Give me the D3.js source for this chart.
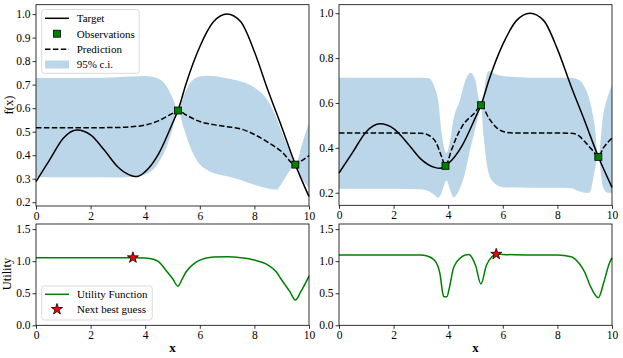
<!DOCTYPE html>
<html>
<head>
<meta charset="utf-8">
<script src="https://cdn.jsdelivr.net/npm/d3@7"></script>
<style>
  body { margin: 0; background: #fff; }
  svg { display: block; font-family: "Liberation Serif", "Times New Roman", serif; }
</style>
</head>
<body>
<div class="chart"></div>
<script>
// Target function (same in both columns)
var targetX = [0, 0.5, 1, 1.5, 2, 2.5, 3, 3.5, 3.7, 4, 4.5, 5, 5.2, 5.5, 6, 6.5, 7, 7.5, 8, 8.5, 9, 9.5, 10];
var targetY = [0.288, 0.38, 0.472, 0.507, 0.486, 0.422, 0.35, 0.313, 0.309, 0.33, 0.408, 0.536, 0.59, 0.705, 0.861, 0.967, 1.0, 0.967, 0.84, 0.675, 0.52, 0.36, 0.224];

// Left column: two observations
var obs1X = [5.2, 9.5];
var obs1Y = [0.59, 0.36];
var mean1X = [0, 1, 2, 3, 3.5, 4, 4.5, 5, 5.2, 5.5, 6, 6.5, 7, 7.5, 8, 8.5, 9, 9.5, 9.75, 10];
var mean1Y = [0.517, 0.517, 0.517, 0.518, 0.521, 0.528, 0.547, 0.578, 0.59, 0.571, 0.543, 0.53, 0.521, 0.512, 0.488, 0.455, 0.415, 0.36, 0.378, 0.398];
var ci1X = [0, 1, 2, 3, 3.5, 4, 4.5, 4.8, 5, 5.2, 5.4, 5.6, 6, 6.3, 7, 7.5, 8, 8.5, 8.8, 9, 9.3, 9.5, 9.75, 10];
var ci1Upper = [0.728, 0.728, 0.729, 0.732, 0.735, 0.737, 0.725, 0.69, 0.645, 0.59, 0.65, 0.70, 0.735, 0.738, 0.727, 0.713, 0.688, 0.63, 0.56, 0.5, 0.415, 0.36, 0.45, 0.54];
var ci1Lower = [0.306, 0.306, 0.306, 0.305, 0.308, 0.318, 0.37, 0.44, 0.51, 0.59, 0.52, 0.45, 0.36, 0.335, 0.31, 0.295, 0.274, 0.258, 0.253, 0.28, 0.335, 0.36, 0.3, 0.26];

// Right column: three observations
var obs2X = [3.9, 5.2, 9.5];
var obs2Y = [0.32, 0.59, 0.36];
var mean2X = [0, 1, 2, 3, 3.3, 3.57, 3.76, 3.9, 4.12, 4.3, 4.5, 5, 5.2, 5.5, 5.8, 6.1, 6.5, 7, 8, 8.5, 8.7, 9.06, 9.3, 9.5, 9.67, 10];
var mean2Y = [0.466, 0.466, 0.466, 0.465, 0.455, 0.42, 0.36, 0.32, 0.39, 0.446, 0.494, 0.56, 0.59, 0.53, 0.487, 0.47, 0.466, 0.466, 0.466, 0.465, 0.46, 0.42, 0.387, 0.36, 0.397, 0.443];
var ci2X = [0, 1, 2, 3, 3.3, 3.5, 3.63, 3.76, 3.85, 3.94, 4.05, 4.2, 4.43, 4.6, 4.82, 5, 5.1, 5.2, 5.3, 5.4, 5.5, 5.7, 6, 7, 8, 8.5, 8.82, 9, 9.18, 9.37, 9.5, 9.67, 9.85, 10];
var ci2Upper = [0.713, 0.713, 0.713, 0.713, 0.71, 0.67, 0.613, 0.465, 0.40, 0.375, 0.42, 0.53, 0.613, 0.69, 0.735, 0.70, 0.63, 0.59, 0.64, 0.72, 0.742, 0.73, 0.72, 0.713, 0.713, 0.712, 0.70, 0.67, 0.613, 0.494, 0.36, 0.54, 0.63, 0.68];
var ci2Lower = [0.218, 0.218, 0.218, 0.215, 0.205, 0.19, 0.178, 0.2, 0.235, 0.256, 0.22, 0.18, 0.22, 0.28, 0.4, 0.49, 0.54, 0.59, 0.45, 0.34, 0.28, 0.242, 0.225, 0.222, 0.222, 0.22, 0.205, 0.2, 0.2, 0.3, 0.36, 0.226, 0.2, 0.2];

// Utility functions and the next best guess
var util1X = [0, 1, 2, 3, 3.55, 4, 4.3, 4.5, 4.8, 5, 5.2, 5.35, 5.5, 5.8, 6, 6.5, 7, 7.5, 8, 8.5, 8.8, 9, 9.3, 9.5, 9.7, 10];
var util1Y = [1.053, 1.053, 1.053, 1.054, 1.055, 1.05, 1.03, 0.99, 0.835, 0.73, 0.61, 0.72, 0.835, 0.965, 1.017, 1.064, 1.07, 1.053, 1.017, 0.94, 0.835, 0.706, 0.524, 0.394, 0.524, 0.768];
var util2X = [0, 1, 2, 3, 3.2, 3.5, 3.7, 3.8, 3.85, 3.95, 4.05, 4.2, 4.5, 4.75, 5, 5.2, 5.4, 5.6, 5.76, 6, 7, 8, 8.5, 8.8, 9, 9.2, 9.5, 9.7, 9.9, 10];
var util2Y = [1.096, 1.096, 1.096, 1.095, 1.085, 1.016, 0.8, 0.5, 0.447, 0.445, 0.6, 0.9, 1.07, 1.106, 0.936, 0.644, 0.936, 1.07, 1.11, 1.106, 1.096, 1.096, 1.07, 0.963, 0.83, 0.617, 0.431, 0.67, 0.963, 1.053];
var best1 = [3.55, 1.055];
var best2 = [5.76, 1.11];

var yTicksLeft = [0.2, 0.3, 0.4, 0.5, 0.6, 0.7, 0.8, 0.9, 1.0];
var yTicksRight = [0.2, 0.4, 0.6, 0.8, 1.0];
var xTicks = [0, 2, 4, 6, 8, 10];
var utilTicks = [0.0, 0.5, 1.0, 1.5];

var width = 623, height = 358;
var serif = '"Liberation Serif", "Times New Roman", serif';
var svg = d3.select(".chart").append("svg")
    .attr("width", width)
    .attr("height", height);

var fmt = d3.format(".1f");
var zip = (xs, ys) => xs.map((d, i) => [d, ys[i]]);
var starSize = 38;

// Draw one GP panel
function gpPanel(x0, x1, y0, y1, yDomain, yTicks, mX, mY, cX, cU, cL, oX, oY) {
    var x = d3.scaleLinear().domain([0, 10]).range([x0, x1]);
    var y = d3.scaleLinear().domain(yDomain).range([y1, y0]);
    var g = svg.append("g");

    g.append("path")
        .datum(cX.map((d, i) => [d, cU[i], cL[i]]))
        .attr("fill", "#1f77b4").attr("fill-opacity", 0.3)
        .attr("d", d3.area().curve(d3.curveMonotoneX)
            .x(d => x(d[0])).y0(d => y(d[2])).y1(d => y(d[1])));

    var line = d3.line().curve(d3.curveMonotoneX).x(d => x(d[0])).y(d => y(d[1]));
    g.append("path").datum(zip(targetX, targetY))
        .attr("fill", "none").attr("stroke", "#000").attr("stroke-width", 1.5)
        .attr("d", line);
    g.append("path").datum(zip(mX, mY))
        .attr("fill", "none").attr("stroke", "#000").attr("stroke-width", 1.5)
        .attr("stroke-dasharray", "5.5,2.4")
        .attr("d", line);

    g.selectAll("rect.obs").data(zip(oX, oY)).enter().append("rect")
        .attr("class", "obs")
        .attr("x", d => x(d[0]) - 3.5).attr("y", d => y(d[1]) - 3.5)
        .attr("width", 7).attr("height", 7)
        .attr("fill", "#008000").attr("stroke", "#000").attr("stroke-width", 0.8);

    frame(g, x, y, x0, x1, y0, y1, yTicks);
    return g;
}

// Draw one utility panel
function utilPanel(x0, x1, y0, y1, uX, uY, best) {
    var x = d3.scaleLinear().domain([0, 10]).range([x0, x1]);
    var y = d3.scaleLinear().domain([0, 1.58]).range([y1, y0]);
    var g = svg.append("g");
    g.append("path").datum(zip(uX, uY))
        .attr("fill", "none").attr("stroke", "#008000").attr("stroke-width", 1.5)
        .attr("d", d3.line().curve(d3.curveMonotoneX).x(d => x(d[0])).y(d => y(d[1])));
    g.append("path")
        .attr("d", d3.symbol(d3.symbolStar, starSize)())
        .attr("transform", "translate(" + x(best[0]) + "," + y(best[1]) + ")")
        .attr("fill", "red").attr("stroke", "#000").attr("stroke-width", 0.8);
    frame(g, x, y, x0, x1, y0, y1, utilTicks);
    g.append("text")
        .attr("x", (x0 + x1) / 2).attr("y", 352)
        .attr("text-anchor", "middle")
        .style("font-size", "13px").style("font-weight", "bold")
        .text("x");
    return g;
}

// Styles the axis group like matplotlib: serif labels, thin ticks
function styleAxis(a) {
    a.select(".domain").remove();
    a.attr("font-family", serif).attr("font-size", 11.5);
    a.selectAll(".tick line").attr("stroke", "#000").attr("stroke-width", 0.8);
    a.selectAll(".tick text").attr("fill", "#000")
        .style("font-family", serif).style("font-size", "11.5px");
}

function frame(g, x, y, x0, x1, y0, y1, yTicks) {
    g.append("rect")
        .attr("x", x0).attr("y", y0).attr("width", x1 - x0).attr("height", y1 - y0)
        .attr("fill", "none").attr("stroke", "#000").attr("stroke-width", 0.8);
    g.append("g").attr("transform", "translate(0," + y1 + ")")
        .call(d3.axisBottom(x).tickValues(xTicks).tickSize(3.5).tickPadding(2).tickFormat(d3.format("d")))
        .call(styleAxis);
    g.append("g").attr("transform", "translate(" + x0 + ",0)")
        .call(d3.axisLeft(y).tickValues(yTicks).tickSize(3.5).tickPadding(2).tickFormat(fmt))
        .call(styleAxis);
}

function legendBox(g, bx, by, bw, bh) {
    g.append("rect")
        .attr("x", bx).attr("y", by).attr("width", bw).attr("height", bh)
        .attr("rx", 2.5)
        .attr("fill", "#fff").attr("fill-opacity", 0.8)
        .attr("stroke", "#d0d0d0").attr("stroke-width", 0.8);
}

function legendText(g, tx, ty, label) {
    g.append("text").attr("x", tx).attr("y", ty).attr("dy", "0.35em")
        .style("font-size", "11px").text(label);
}

gpPanel(36, 309, 4.7, 206, [0.184, 1.04], yTicksLeft, mean1X, mean1Y, ci1X, ci1Upper, ci1Lower, obs1X, obs1Y);
gpPanel(339, 612, 4.7, 205.3, [0.144, 1.038], yTicksRight, mean2X, mean2Y, ci2X, ci2Upper, ci2Lower, obs2X, obs2Y);
utilPanel(36, 309, 224, 325.3, util1X, util1Y, best1);
utilPanel(339, 612, 224, 325.3, util2X, util2Y, best2);

// y labels
svg.append("text").attr("transform", "translate(13,105) rotate(-90)")
    .attr("text-anchor", "middle").style("font-size", "12.5px").text("f(x)");
svg.append("text").attr("transform", "translate(11,274) rotate(-90)")
    .attr("text-anchor", "middle").style("font-size", "12.5px").text("Utility");

// Legend, top-left panel
var lg = svg.append("g");
legendBox(lg, 41.7, 9.5, 97.5, 63.8);
lg.append("line").attr("x1", 45).attr("x2", 69).attr("y1", 18.3).attr("y2", 18.3)
    .attr("stroke", "#000").attr("stroke-width", 1.5);
legendText(lg, 76.7, 18.3, "Target");
lg.append("rect").attr("x", 53.5).attr("y", 30.2).attr("width", 7).attr("height", 7)
    .attr("fill", "#008000").attr("stroke", "#000").attr("stroke-width", 0.8);
legendText(lg, 76.7, 33.7, "Observations");
lg.append("line").attr("x1", 45).attr("x2", 69).attr("y1", 49.3).attr("y2", 49.3)
    .attr("stroke", "#000").attr("stroke-width", 1.5).attr("stroke-dasharray", "5.5,2.4");
legendText(lg, 76.7, 49.3, "Prediction");
lg.append("rect").attr("x", 45).attr("y", 60.5).attr("width", 24).attr("height", 8)
    .attr("fill", "#1f77b4").attr("fill-opacity", 0.3);
legendText(lg, 76.7, 64.3, "95% c.i.");

// Legend, bottom-left panel
var lu = svg.append("g");
legendBox(lu, 41.7, 286, 110.5, 34);
lu.append("line").attr("x1", 45).attr("x2", 69).attr("y1", 294.3).attr("y2", 294.3)
    .attr("stroke", "#008000").attr("stroke-width", 1.5);
legendText(lu, 77, 294.3, "Utility Function");
lu.append("path").attr("d", d3.symbol(d3.symbolStar, starSize)())
    .attr("transform", "translate(57,309.3)")
    .attr("fill", "red").attr("stroke", "#000").attr("stroke-width", 0.8);
legendText(lu, 77, 309.3, "Next best guess");
</script>
</body>
</html>
